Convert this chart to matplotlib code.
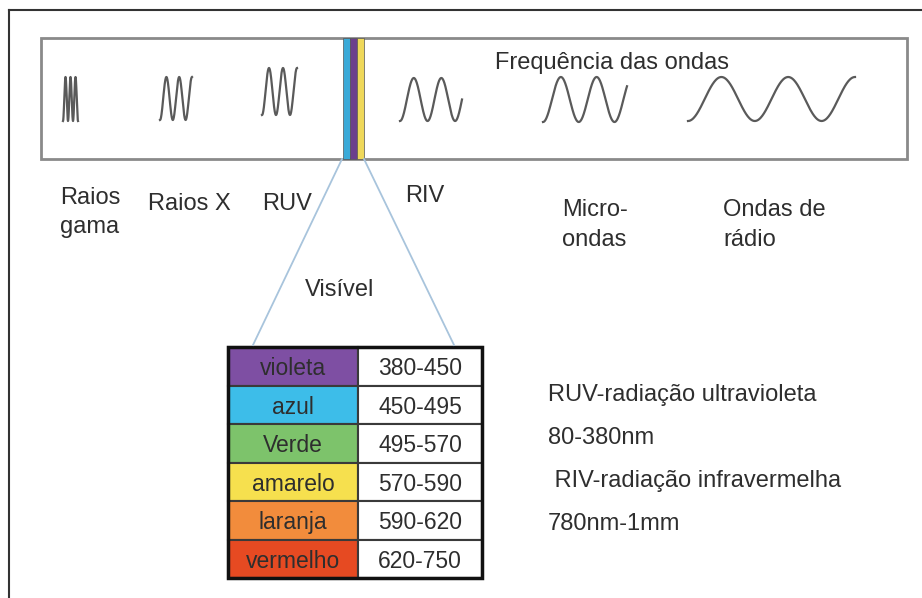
import numpy as np
import matplotlib.pyplot as plt
from matplotlib.patches import Rectangle

plt.rcParams['font.family'] = ['Liberation Sans', 'DejaVu Sans']

# spectrum bands, left to right, and how many wave cycles each icon shows
bands = ['Raios\ngama', 'Raios X', 'RUV', 'RIV', 'Micro-\nondas', 'Ondas de\nrádio']
wave_cycles = [3.0, 2.5, 2.5, 2.25, 2.35, 2.5]

# visible light table
vis_names = ['violeta', 'azul', 'Verde', 'amarelo', 'laranja', 'vermelho']
vis_ranges = ['380-450', '450-495', '495-570', '570-590', '590-620', '620-750']
vis_colors = ['#7e4fa3', '#3dbde9', '#7dc36b', '#f6e04e', '#f28c3c', '#e64a22']

# strip of visible colours inside the spectrum box
strip_colors = ['#3aaad8', '#6b3f8c', '#efd85a']

notes = ['RUV-radiação ultravioleta', '80-380nm', ' RIV-radiação infravermelha', '780nm-1mm']

TXT = '#2e2e2e'
FS = 17

fig = plt.figure(figsize=(9.22, 5.98), dpi=100)
ax = fig.add_axes([0, 0, 1, 1])
ax.set_xlim(0, 922)
ax.set_ylim(598, 0)
ax.axis('off')

# outer frame (top and left only)
ax.plot([9, 922], [10, 10], color='#333333', lw=1.5)
ax.plot([9, 9], [10, 598], color='#333333', lw=1.5)

# spectrum box
ax.add_patch(Rectangle((41, 38), 866, 121, fill=False, ec='#8a8a8a', lw=2))
ax.text(495, 60, 'Frequência das ondas', fontsize=FS, color=TXT, va='center_baseline')

# visible strip
sx = 343
for c, w in zip(strip_colors, [7, 7, 7]):
    ax.add_patch(Rectangle((sx, 38), w, 121, fc=c, ec='#555555', lw=0.5))
    sx += w

# wave icons
wave_x = [(63, 78), (160, 192), (262, 297), (400, 462), (543, 627), (688, 855)]
wave_y = [(77, 121), (77, 120), (68, 115), (78, 121), (77, 122), (77, 121)]
for (x0, x1), (y0, y1), n in zip(wave_x, wave_y, wave_cycles):
    t = np.linspace(0, 1, 300)
    mid, amp = (y0 + y1) / 2, (y1 - y0) / 2
    ax.plot(x0 + t * (x1 - x0), mid + amp * np.cos(2 * np.pi * n * t),
            color='#5a5a5a', lw=1.6)

# band labels
label_pos = [(60, 195), (148, 202), (262, 202), (405, 193), (562, 207), (723, 207)]
for lab, (x, y) in zip(bands, label_pos):
    for i, line in enumerate(lab.split('\n')):
        ax.text(x, y + i * 30, line, fontsize=FS, color=TXT, va='center_baseline')

# funnel lines to the table
ax.plot([342, 253], [159, 345], color='#a8c4dc', lw=1.3)
ax.plot([364, 454], [159, 345], color='#a8c4dc', lw=1.3)
ax.text(340, 287, 'Visível', fontsize=FS, color=TXT, ha='center', va='center_baseline')

# table
tx0, tx_mid, tx1 = 228, 358, 482
ty0, rh = 347, 38.5
for i, (name, rng, c) in enumerate(zip(vis_names, vis_ranges, vis_colors)):
    y = ty0 + i * rh
    ax.add_patch(Rectangle((tx0, y), tx_mid - tx0, rh, fc=c, ec='#3a3a3a', lw=1.5))
    ax.add_patch(Rectangle((tx_mid, y), tx1 - tx_mid, rh, fc='white', ec='#3a3a3a', lw=1.5))
    ax.text((tx0 + tx_mid) / 2, y + rh / 2, name, fontsize=16.5, color=TXT,
            ha='center', va='center_baseline')
    ax.text((tx_mid + tx1) / 2, y + rh / 2, rng, fontsize=16.5, color=TXT,
            ha='center', va='center_baseline')
ax.add_patch(Rectangle((tx0, ty0), tx1 - tx0, rh * len(vis_names), fill=False, ec='#111111', lw=2.5))

# notes on the right
for i, s in enumerate(notes):
    ax.text(548, 392 + i * 43, s, fontsize=FS, color=TXT, va='center_baseline')

fig.savefig('out.png', dpi=100)
